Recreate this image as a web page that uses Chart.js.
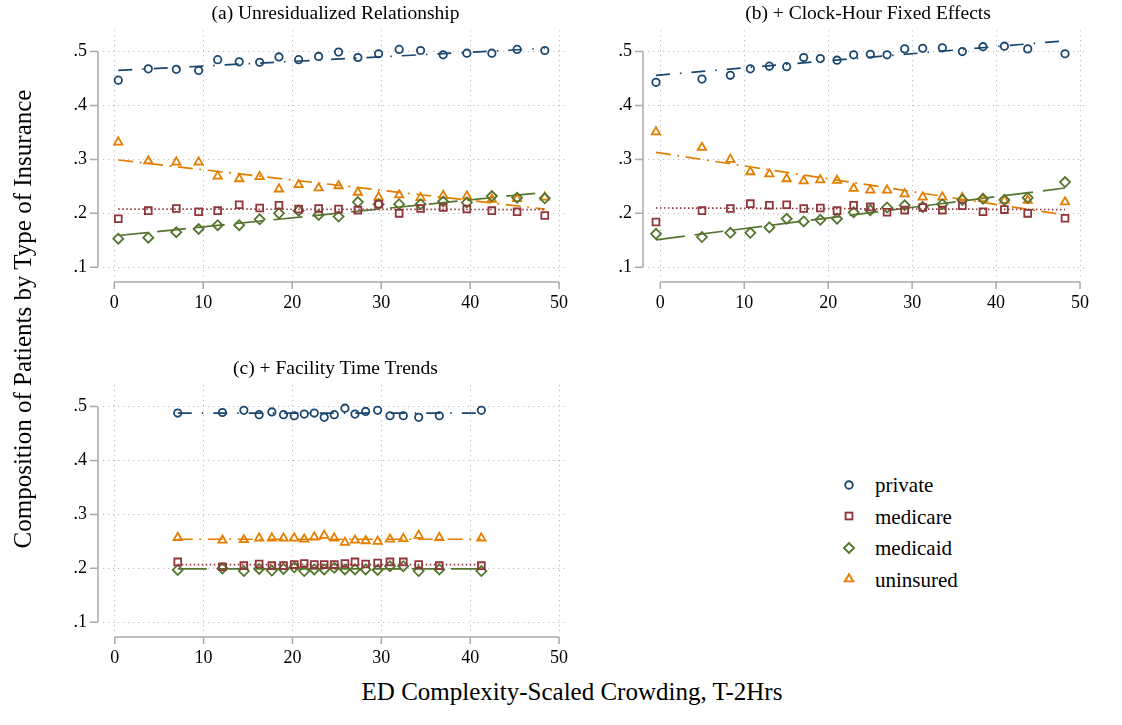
<!DOCTYPE html>
<html>
<head>
<meta charset="utf-8">
<script src="https://cdn.jsdelivr.net/npm/chart.js@4.4.1/dist/chart.umd.min.js"></script>
<style>
  html, body { margin: 0; padding: 0; background: #fff; }
  body { width: 1122px; height: 725px; position: relative; overflow: hidden;
         font-family: "Liberation Serif", "Times New Roman", serif; color: #000; }
  canvas { position: absolute; }
  .ptitle { position: absolute; text-align: center; font-size: 19.5px; line-height: 20px; white-space: nowrap; }
  .axtitle { position: absolute; text-align: center; font-size: 25px; line-height: 30px; white-space: nowrap; }
  .leg { position: absolute; font-size: 21px; line-height: 24px; white-space: nowrap; }
  .legsym { position: absolute; width: 16px; height: 16px; }
</style>
</head>
<body>
<canvas id="cA" width="580" height="300" style="left:0px;top:20px"></canvas>
<canvas id="cB" width="562" height="300" style="left:560px;top:20px"></canvas>
<canvas id="cC" width="580" height="300" style="left:0px;top:375px"></canvas>
<div id="titles"></div>
<div id="legend"></div>
<div class="axtitle" id="ytitle" style="left:-277px;top:304px;width:600px;transform:rotate(-90deg);">Composition of Patients by Type of Insurance</div>
<div class="axtitle" id="xtitle" style="left:272px;top:677px;width:600px;">ED Complexity-Scaled Crowding, T-2Hrs</div>
<script>
// ---------- shared definitions ----------
const seriesNames  = ['private', 'medicare', 'medicaid', 'uninsured'];
const seriesColors = ['#1a476f', '#90353b', '#55752f', '#e37e00'];
const pointStyles  = ['circle', 'rect', 'rectRot', 'triangle'];
const pointRadii   = [3.7, 4.8, 5.0, 4.8];
const fitDashes    = [[14, 10, 1.5, 10], [1.5, 2.5], [29, 10], [15, 6.5, 2, 6.5]];
const xTicks = [0, 10, 20, 30, 40, 50];
const yTicks = [0.1, 0.2, 0.3, 0.4, 0.5];
const yTickLabels = ['.1', '.2', '.3', '.4', '.5'];
const panelTitles = ['(a) Unresidualized Relationship', '(b) + Clock-Hour Fixed Effects', '(c) + Facility Time Trends'];

// ---------- panel (a) ----------
const xA = [0.45, 3.82, 6.97, 9.48, 11.62, 14.04, 16.34, 18.51, 20.72, 22.97, 25.21, 27.38, 29.71, 32.02, 34.43, 36.97, 39.63, 42.44, 45.28, 48.39];
const privateA   = [.447, .468, .467, .465, .485, .481, .480, .490, .485, .491, .499, .489, .496, .504, .502, .494, .497, .497, .504, .502];
const medicareA  = [.190, .205, .209, .203, .205, .216, .210, .215, .208, .209, .208, .206, .217, .200, .209, .211, .208, .205, .203, .196];
const medicaidA  = [.153, .155, .165, .171, .178, .178, .189, .200, .205, .197, .194, .221, .217, .217, .217, .222, .220, .232, .229, .228];
const uninsuredA = [.332, .297, .295, .295, .269, .264, .268, .245, .253, .247, .251, .239, .230, .234, .229, .233, .232, .226, .227, .230];
const fitXA = [0.45, 48.39];
const fitPrivateA = [.465, .506];
const fitMedicareA = [.208, .207];
const fitMedicaidA = [.159, .239];
const fitUninsuredA = [.299, .208];

// ---------- panel (b) ----------
const xB = [-0.52, 4.96, 8.34, 10.72, 12.99, 15.05, 17.08, 19.06, 21.05, 23.03, 25.02, 27.01, 29.11, 31.26, 33.60, 35.98, 38.44, 40.99, 43.77, 48.21];
const privateB   = [.443, .449, .456, .468, .473, .472, .489, .487, .484, .494, .495, .494, .505, .506, .507, .500, .509, .510, .505, .496];
const medicareB  = [.184, .205, .209, .218, .215, .216, .209, .210, .205, .215, .212, .202, .206, .211, .206, .214, .203, .207, .200, .191];
const medicaidB  = [.162, .156, .164, .164, .174, .190, .185, .188, .190, .202, .206, .211, .215, .212, .217, .225, .227, .225, .229, .258];
const uninsuredB = [.351, .322, .300, .277, .273, .264, .260, .262, .261, .246, .243, .243, .236, .230, .230, .229, .227, .224, .224, .221];
const fitXB = [-0.52, 48.21];
const fitPrivateB = [.456, .520];
const fitMedicareB = [.210, .207];
const fitMedicaidB = [.151, .247];
const fitUninsuredB = [.313, .197];

// ---------- panel (c) ----------
const xC = [7.09, 12.12, 14.53, 16.25, 17.68, 18.99, 20.20, 21.32, 22.45, 23.57, 24.70, 25.90, 27.03, 28.23, 29.58, 30.97, 32.47, 34.20, 36.52, 41.25];
const privateC   = [.488, .489, .493, .485, .490, .485, .483, .486, .488, .480, .485, .497, .486, .491, .493, .483, .483, .480, .483, .493];
const medicareC  = [.212, .203, .205, .208, .205, .205, .207, .209, .207, .207, .207, .209, .212, .208, .210, .212, .212, .207, .205, .205];
const medicaidC  = [.197, .200, .195, .199, .196, .199, .202, .195, .198, .198, .201, .198, .198, .198, .197, .204, .204, .195, .198, .195];
const uninsuredC = [.257, .252, .253, .256, .256, .256, .256, .254, .258, .261, .256, .248, .252, .251, .250, .254, .255, .261, .257, .256];
const fitXC = [7.09, 41.25];
const fitPrivateC = [.488, .488];
const fitMedicareC = [.207, .207];
const fitMedicaidC = [.199, .199];
const fitUninsuredC = [.254, .254];

// ---------- styling constants ----------
const FONT = '"Liberation Serif", "Times New Roman", serif';
const GRID_COLOR = '#bdbdbd';
const AXIS_COLOR = '#a9a9a9';

const stataAxes = {
  id: 'stataAxes',
  afterDraw(chart) {
    const { ctx, chartArea: a, scales: { x, y } } = chart;
    ctx.save();
    ctx.strokeStyle = AXIS_COLOR;
    ctx.lineWidth = 1.5;
    ctx.setLineDash([]);
    ctx.beginPath();
    const ax = a.left - 5;
    ctx.moveTo(ax, y.getPixelForValue(yTicks[0]));
    ctx.lineTo(ax, y.getPixelForValue(yTicks[yTicks.length - 1]));
    yTicks.forEach(v => { const p = y.getPixelForValue(v); ctx.moveTo(ax, p); ctx.lineTo(ax - 8, p); });
    const ay = a.bottom + 5;
    ctx.moveTo(x.getPixelForValue(xTicks[0]), ay);
    ctx.lineTo(x.getPixelForValue(xTicks[xTicks.length - 1]), ay);
    xTicks.forEach(v => { const p = x.getPixelForValue(v); ctx.moveTo(p, ay); ctx.lineTo(p, ay + 7); });
    ctx.stroke();
    ctx.restore();
  }
};

function zeroPad(s) { s.paddingTop = 0; s.paddingBottom = 0; s.paddingLeft = 0; s.paddingRight = 0; }

function makePanel(id, xs, ys, fitX, fits, xMin, xMax, yWidth, padRight) {
  const datasets = [];
  ys.forEach((vals, i) => {
    datasets.push({
      label: seriesNames[i],
      data: xs.map((xv, k) => ({ x: xv, y: vals[k] })),
      showLine: false,
      pointStyle: pointStyles[i],
      pointRadius: pointRadii[i],
      pointBorderWidth: 1.8,
      pointBorderColor: seriesColors[i],
      pointBackgroundColor: 'rgba(255,255,255,0)',
      borderColor: seriesColors[i]
    });
  });
  fits.forEach((vals, i) => {
    datasets.push({
      label: seriesNames[i] + ' fit',
      data: fitX.map((xv, k) => ({ x: xv, y: vals[k] })),
      showLine: true,
      pointRadius: 0,
      borderColor: seriesColors[i],
      borderWidth: 1.7,
      borderDash: fitDashes[i],
      fill: false
    });
  });
  return new Chart(document.getElementById(id), {
    type: 'scatter',
    data: { datasets },
    options: {
      responsive: false,
      animation: false,
      devicePixelRatio: 1,
      events: [],
      layout: { padding: { left: 0, right: padRight, top: 10, bottom: 0 }, autoPadding: false },
      plugins: { legend: { display: false }, tooltip: { enabled: false }, title: { display: false } },
      scales: {
        x: {
          type: 'linear', min: xMin, max: xMax,
          afterBuildTicks: s => { s.ticks = xTicks.map(v => ({ value: v })); },
          afterFit: s => { s.height = 43; zeroPad(s); },
          grid: { color: GRID_COLOR, lineWidth: 1, drawTicks: false },
          border: { display: false, dash: [1.2, 3.8] },
          ticks: { padding: 15, color: '#000', maxRotation: 0, autoSkip: false,
                   font: { family: FONT, size: 18 }, callback: v => String(v) }
        },
        y: {
          type: 'linear', min: 0.082, max: 0.54,
          afterBuildTicks: s => { s.ticks = yTicks.map(v => ({ value: v })); },
          afterFit: s => { s.width = yWidth; zeroPad(s); },
          grid: { color: GRID_COLOR, lineWidth: 1, drawTicks: false },
          border: { display: false, dash: [1.2, 3.8] },
          ticks: { padding: 16, color: '#000', autoSkip: false,
                   font: { family: FONT, size: 18 },
                   callback: v => yTickLabels[yTicks.findIndex(t => Math.abs(t - v) < 1e-9)] }
        }
      }
    },
    plugins: [stataAxes]
  });
}

makePanel('cA', xA, [privateA, medicareA, medicaidA, uninsuredA], fitXA,
          [fitPrivateA, fitMedicareA, fitMedicaidA, fitUninsuredA], -1.27, 51.0, 103, 12);
makePanel('cB', xB, [privateB, medicareB, medicaidB, uninsuredB], fitXB,
          [fitPrivateB, fitMedicareB, fitMedicaidB, fitUninsuredB], -1.47, 50.95, 88, 34);
makePanel('cC', xC, [privateC, medicareC, medicaidC, uninsuredC], fitXC,
          [fitPrivateC, fitMedicareC, fitMedicaidC, fitUninsuredC], -1.32, 51.0, 103, 12);

// ---------- panel titles ----------
const titlePos = [{ l: 103, w: 465, t: 3.4 }, { l: 648, w: 440, t: 3.4 }, { l: 103, w: 465, t: 358.4 }];
const titlesDiv = document.getElementById('titles');
panelTitles.forEach((txt, i) => {
  const d = document.createElement('div');
  d.className = 'ptitle';
  d.style.left = titlePos[i].l + 'px';
  d.style.width = titlePos[i].w + 'px';
  d.style.top = titlePos[i].t + 'px';
  d.textContent = txt;
  titlesDiv.appendChild(d);
});

// ---------- legend ----------
const legendDiv = document.getElementById('legend');
const legendCenters = [484.5, 516, 547.5, 579];
function symbolSvg(i) {
  const c = seriesColors[i];
  let shape = '';
  if (pointStyles[i] === 'circle') shape = `<circle cx="8" cy="8" r="3.8" fill="none" stroke="${c}" stroke-width="1.9"/>`;
  else if (pointStyles[i] === 'rect') shape = `<rect x="4.6" y="4.6" width="6.8" height="6.8" fill="none" stroke="${c}" stroke-width="1.9"/>`;
  else if (pointStyles[i] === 'rectRot') shape = `<polygon points="3,8 8,3 13,8 8,13" fill="none" stroke="${c}" stroke-width="1.9"/>`;
  else shape = `<polygon points="8,3.2 12.2,10.4 3.8,10.4" fill="none" stroke="${c}" stroke-width="1.9"/>`;
  return `<svg width="16" height="16" viewBox="0 0 16 16" xmlns="http://www.w3.org/2000/svg">${shape}</svg>`;
}
seriesNames.forEach((name, i) => {
  const cy = legendCenters[i];
  const s = document.createElement('div');
  s.className = 'legsym';
  s.style.left = (849.3 - 8) + 'px';
  s.style.top = (cy - 8) + 'px';
  s.innerHTML = symbolSvg(i);
  legendDiv.appendChild(s);
  const t = document.createElement('div');
  t.className = 'leg';
  t.style.left = '875px';
  t.style.top = (cy + 8 - 19.1) + 'px';
  t.textContent = name;
  legendDiv.appendChild(t);
});
</script>
</body>
</html>
